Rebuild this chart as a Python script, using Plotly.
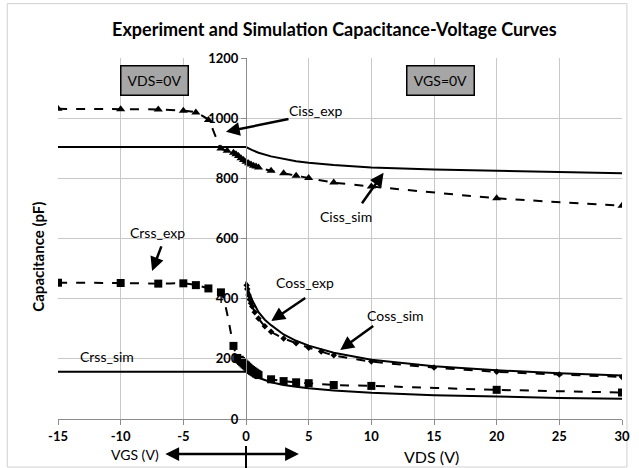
import plotly.graph_objects as go

# ---------------- data ----------------
ciss_exp_x = [-15, -10, -7, -5, -4, -3, -2, -1.5, -1, -0.8, -0.6, -0.4, -0.2, 0, 0.2, 0.4, 0.6, 0.8, 1, 2, 3, 4, 5, 7, 10, 20, 30]
ciss_exp_y = [1031, 1030, 1029, 1025, 1019, 994, 899, 892, 885, 880, 874, 867, 861, 855, 850, 846, 842, 839, 836, 825, 817, 809, 801, 786, 773, 734, 709]

ciss_sim_x = [-15, 0, 0.5, 1, 2, 3, 4, 5, 7, 10, 15, 20, 25, 30]
ciss_sim_y = [904, 904, 894, 885, 873, 864, 857, 852, 844, 836, 829, 825, 821, 817]

crss_exp_x = [-15, -10, -7, -5, -4, -3, -2, -1, -0.7, -0.5, -0.4, -0.3, -0.2, -0.1, 0, 0.1, 0.2, 0.3, 0.4, 0.5, 0.6, 0.7, 0.8, 0.9, 1, 2, 3, 4, 5, 7, 10, 20, 30]
crss_exp_y = [453, 452, 450, 451, 445, 434, 421, 243, 203, 197, 193, 189, 185, 181, 178, 174, 170, 166, 163, 160, 157, 154, 151, 149, 146, 132, 126, 122, 119, 113, 110, 97, 88]

crss_sim_x = [-15, 0, 0.25, 0.5, 1, 2, 3, 4, 5, 7, 10, 15, 20, 25, 30]
crss_sim_y = [157, 157, 150, 145, 137, 122, 113, 107, 102, 95, 87, 79, 74, 70, 67]

coss_exp_x = [0.05, 0.1, 0.2, 0.3, 0.4, 0.5, 0.7, 1, 1.5, 2, 3, 4, 5, 6, 7, 10, 15, 20, 25, 30]
coss_exp_y = [445, 432, 412, 397, 385, 374, 355, 334, 308, 290, 268, 252, 237, 224, 212, 191, 171, 157, 148, 140]

coss_sim_x = [0, 0.25, 0.5, 1, 1.5, 2, 3, 4, 5, 7, 10, 15, 20, 25, 30]
coss_sim_y = [457, 420, 395, 355, 330, 312, 281, 260, 244, 220, 197, 175, 162, 152, 145]

x_ticks = [-15, -10, -5, 0, 5, 10, 15, 20, 25, 30]
y_ticks = [0, 200, 400, 600, 800, 1000, 1200]

title_text = "Experiment and Simulation Capacitance-Voltage Curves"

# ---------------- layout geometry ----------------
W, H = 639, 468
L, R, T, B = 57.5, 630, 58.3, 419
FONT = "Lato"


def xp(px):  # pixel -> paper x
    return (px - L) / (R - L)


def yp(py):  # pixel -> paper y
    return (B - py) / (B - T)


def xd(px):  # pixel -> data x
    return -15 + (px - L) / (R - L) * 45


def yd(py):  # pixel -> data y
    return (B - py) / (B - T) * 1200


fig = go.Figure()

solid_line = dict(color="black", width=2)

fig.add_trace(go.Scatter(x=ciss_sim_x, y=ciss_sim_y, mode="lines", line=solid_line, name="Ciss_sim"))
fig.add_trace(go.Scatter(x=crss_sim_x, y=crss_sim_y, mode="lines", line=solid_line, name="Crss_sim"))
fig.add_trace(go.Scatter(x=coss_sim_x, y=coss_sim_y, mode="lines", line=solid_line, name="Coss_sim"))

fig.add_trace(go.Scatter(x=ciss_exp_x, y=ciss_exp_y, mode="lines+markers",
                         line=dict(color="black", width=2, dash="dash", shape="spline", smoothing=0.6),
                         marker=dict(symbol="triangle-up", size=8, color="black"), name="Ciss_exp"))
fig.add_trace(go.Scatter(x=crss_exp_x, y=crss_exp_y, mode="lines+markers",
                         line=dict(color="black", width=2, dash="dash", shape="spline", smoothing=0.6),
                         marker=dict(symbol="square", size=8, color="black"), name="Crss_exp"))
fig.add_trace(go.Scatter(x=coss_exp_x, y=coss_exp_y, mode="lines+markers",
                         line=dict(color="black", width=2, dash="dash", shape="spline", smoothing=0.6),
                         marker=dict(symbol="diamond", size=5, color="black"), name="Coss_exp"))

annotations = []


def label(text, px, py, size=14):
    annotations.append(dict(text=text, xref="paper", yref="paper", x=xp(px), y=yp(py),
                            showarrow=False, font=dict(family=FONT, size=size, color="black"),
                            xanchor="center", yanchor="middle"))


def arrow(tx, ty, hx, hy):
    annotations.append(dict(text="", xref="x", yref="y", axref="x", ayref="y",
                            x=xd(hx), y=yd(hy), ax=xd(tx), ay=yd(ty), showarrow=True,
                            arrowhead=2, arrowsize=1.1, arrowwidth=2.5, arrowcolor="black"))


label("Ciss_exp", 319, 111)
arrow(293, 119, 228, 132)
label("Ciss_sim", 350, 217)
arrow(365, 205, 388, 173)
label("Crss_exp", 158, 233)
arrow(163, 245, 153, 271)
label("Crss_sim", 107, 357)
label("Coss_exp", 308, 283)
arrow(310, 297, 274, 321)
label("Coss_sim", 400, 316)
arrow(379, 325, 344, 350)

# boxes
for txt, cx in (("VDS=0V", 155), ("VGS=0V", 446)):
    annotations.append(dict(text=txt, xref="paper", yref="paper", x=xp(cx), y=yp(80.5),
                            showarrow=False, font=dict(family=FONT, size=14, color="black"),
                            bgcolor="#a6a6a6", bordercolor="black", borderwidth=1.5,
                            width=64, height=26, borderpad=1, xanchor="center", yanchor="middle"))

# y title
annotations.append(dict(text="<b>Capacitance (pF)</b>", xref="paper", yref="paper",
                        x=xp(37), y=yp(257), textangle=-90, showarrow=False,
                        font=dict(family=FONT, size=15, color="black"),
                        xanchor="center", yanchor="middle"))
# x titles
label("VDS (V)", 437, 456, size=16)
label("VGS (V)", 136, 454, size=14)

# double arrow
annotations.append(dict(text="", xref="paper", yref="paper", x=xp(302), y=yp(454),
                        axref="pixel", ayref="pixel", ax=-(302 - 167), ay=0, showarrow=True,
                        arrowhead=2, startarrowhead=2, arrowside="end+start",
                        arrowsize=1.1, startarrowsize=1.1, arrowwidth=2.5, arrowcolor="black"))

shapes = [
    dict(type="line", xref="x", yref="paper", x0=0, x1=0, y0=yp(446), y1=yp(468),
         line=dict(color="black", width=2)),
    dict(type="rect", xref="paper", yref="paper", x0=xp(6), x1=xp(635), y0=yp(4), y1=yp(467),
         line=dict(color="#d0d0d0", width=1), fillcolor="rgba(0,0,0,0)", layer="below"),
]

fig.update_layout(
    width=W, height=H,
    margin=dict(l=L, r=W - R, t=T, b=H - B, pad=0),
    paper_bgcolor="white", plot_bgcolor="white",
    showlegend=False,
    title=dict(text="<b>" + title_text + "</b>", xref="paper", x=xp(338), xanchor="center",
               yref="container", y=1 - 30 / H, yanchor="middle",
               font=dict(family=FONT, size=18, color="black")),
    annotations=annotations,
    shapes=shapes,
    xaxis=dict(range=[-15, 30], tickvals=x_ticks, ticktext=["<b>%d</b>" % v for v in x_ticks],
               showgrid=True, gridcolor="#c8c8c8", gridwidth=1, zeroline=False,
               showline=True, linecolor="#8c8c8c", linewidth=1,
               ticks="outside", ticklen=5, tickcolor="#8c8c8c",
               tickfont=dict(family=FONT, size=13, color="black"), anchor="y"),
    yaxis=dict(range=[0, 1200], tickvals=y_ticks, ticktext=["<b>%d</b>" % v for v in y_ticks],
               showgrid=True, gridcolor="#c8c8c8", gridwidth=1, zeroline=False,
               showline=True, linecolor="#8c8c8c", linewidth=1,
               ticks="outside", ticklen=5, tickcolor="#8c8c8c",
               tickfont=dict(family=FONT, size=13, color="black"),
               anchor="free", position=1 / 3),
)

fig.write_html("out.html")
